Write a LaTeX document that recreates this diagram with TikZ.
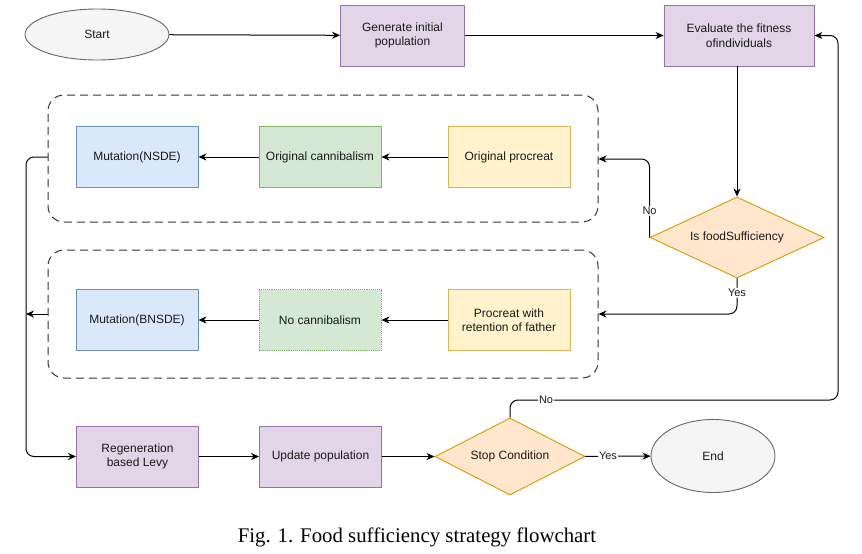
\documentclass[tikz,border=0pt]{standalone}
\usepackage{fontspec}
\setmainfont{Liberation Sans}
\newfontfamily\capfont{Liberation Serif}
\usetikzlibrary{shapes.geometric,arrows.meta}
\definecolor{grayfill}{HTML}{F5F5F5}
\definecolor{graydraw}{HTML}{666666}
\definecolor{purfill}{HTML}{E1D5E7}
\definecolor{purdraw}{HTML}{9673A6}
\definecolor{bluefill}{HTML}{DAE8FC}
\definecolor{bluedraw}{HTML}{6C8EBF}
\definecolor{grnfill}{HTML}{D5E8D4}
\definecolor{grndraw}{HTML}{82B366}
\definecolor{yelfill}{HTML}{FFF2CC}
\definecolor{yeldraw}{HTML}{D6B656}
\definecolor{orgfill}{HTML}{FFE6CC}
\definecolor{orgdraw}{HTML}{D79B00}
\definecolor{txt}{HTML}{1A1A1A}
\definecolor{grpdraw}{HTML}{333333}
\tikzset{
  base/.style={font=\fontsize{12}{14.5}\selectfont, text=txt, line width=0.9pt, align=center, inner sep=0pt},
  oval/.style={base, ellipse, fill=grayfill, draw=graydraw},
  purbox/.style={base, rectangle, fill=purfill, draw=purdraw, minimum width=122pt, minimum height=61pt},
  bluebox/.style={base, rectangle, fill=bluefill, draw=bluedraw, minimum width=122pt, minimum height=61pt},
  grnbox/.style={base, rectangle, fill=grnfill, draw=grndraw, minimum width=122pt, minimum height=61pt},
  yelbox/.style={base, rectangle, fill=yelfill, draw=yeldraw, minimum width=122pt, minimum height=61pt},
  decision/.style={base, diamond, fill=orgfill, draw=orgdraw},
  group/.style={draw=grpdraw, line width=1pt, dash pattern=on 8pt off 5pt, rounded corners=16pt, minimum width=550pt, inner sep=0pt},
  arr/.style={draw=black, line width=1pt, -{Stealth[length=8pt,width=7pt,inset=2.5pt]}},
  lbl/.style={font=\fontsize{11}{13}\selectfont, text=txt, fill=white, inner sep=1pt}
}
\begin{document}
\begin{tikzpicture}[x=1pt,y=-1pt]
\useasboundingbox (0,0) rectangle (862,554);
% groups
\node[group, minimum height=127pt] (g1) at (323,158.5) {};
\node[group, minimum height=128pt] (g2) at (323,314) {};
% top row
\node[oval, minimum width=144pt, minimum height=51pt] (start) at (97,34.5) {Start};
\node[purbox, minimum width=124pt] (gen) at (402.5,35.5) {Generate initial\\population};
\node[purbox, minimum width=150pt] (eval) at (739,35.5) {Evaluate the fitness\\ofindividuals};
% decision
\node[decision, aspect=2.15, minimum width=174pt, minimum height=81pt] (food) at (737,237.5) {Is foodSufficiency};
% group 1
\node[yelbox] (proc) at (509,157) {Original procreat};
\node[grnbox] (canni) at (320,157) {Original cannibalism};
\node[bluebox] (nsde) at (137,157) {Mutation(NSDE)};
% group 2
\node[yelbox] (procf) at (509,320) {Procreat with\\retention of father};
\node[grnbox, densely dotted] (nocan) at (320,320) {No cannibalism};
\node[bluebox] (bnsde) at (137,320) {Mutation(BNSDE)};
% bottom row
\node[purbox] (regen) at (137.5,456.5) {Regeneration\\based Levy};
\node[purbox] (upd) at (320.5,456.5) {Update population};
\node[decision, aspect=1.95, minimum width=150pt, minimum height=77pt] (stop) at (510,456.5) {Stop Condition};
\node[oval, minimum width=124pt, minimum height=73pt] (fin) at (713,456) {End};
% caption
\node[font=\capfont\fontsize{20.8}{24}\selectfont] (cap) at (417,537) {Fig. 1. Food sufficiency strategy flowchart};
% helper coordinates
\coordinate (lx) at (26,456.5);
\coordinate (rx) at (838,400);
% connectors
\draw[arr] (start) -- (gen);
\draw[arr] (gen) -- (eval);
\draw[arr] (eval.south -| food.north) -- (food.north);
\draw[arr, rounded corners=8pt] (food.west) |- node[lbl, pos=0.17] {No} (g1.east |- 0,159);
\draw[arr, rounded corners=8pt] (food.south) |- node[lbl, pos=0.2] {Yes} (g2.east);
\draw[arr] (proc) -- (canni);
\draw[arr] (canni) -- (nsde);
\draw[arr] (procf) -- (nocan);
\draw[arr] (nocan) -- (bnsde);
\draw[arr, rounded corners=8pt] (g1.west |- nsde) -| (lx) -- (regen.west);
\draw[arr] (g2.west) -- (g2.west -| lx);
\draw[arr] (regen) -- (upd);
\draw[arr] (upd) -- (stop);
\draw[arr] (stop) -- node[lbl, pos=0.35] {Yes} (fin);
\draw[arr, rounded corners=8pt] (stop.north) |- node[lbl, pos=0.555] {No} (rx) |- (eval.east);
\end{tikzpicture}
\end{document}
